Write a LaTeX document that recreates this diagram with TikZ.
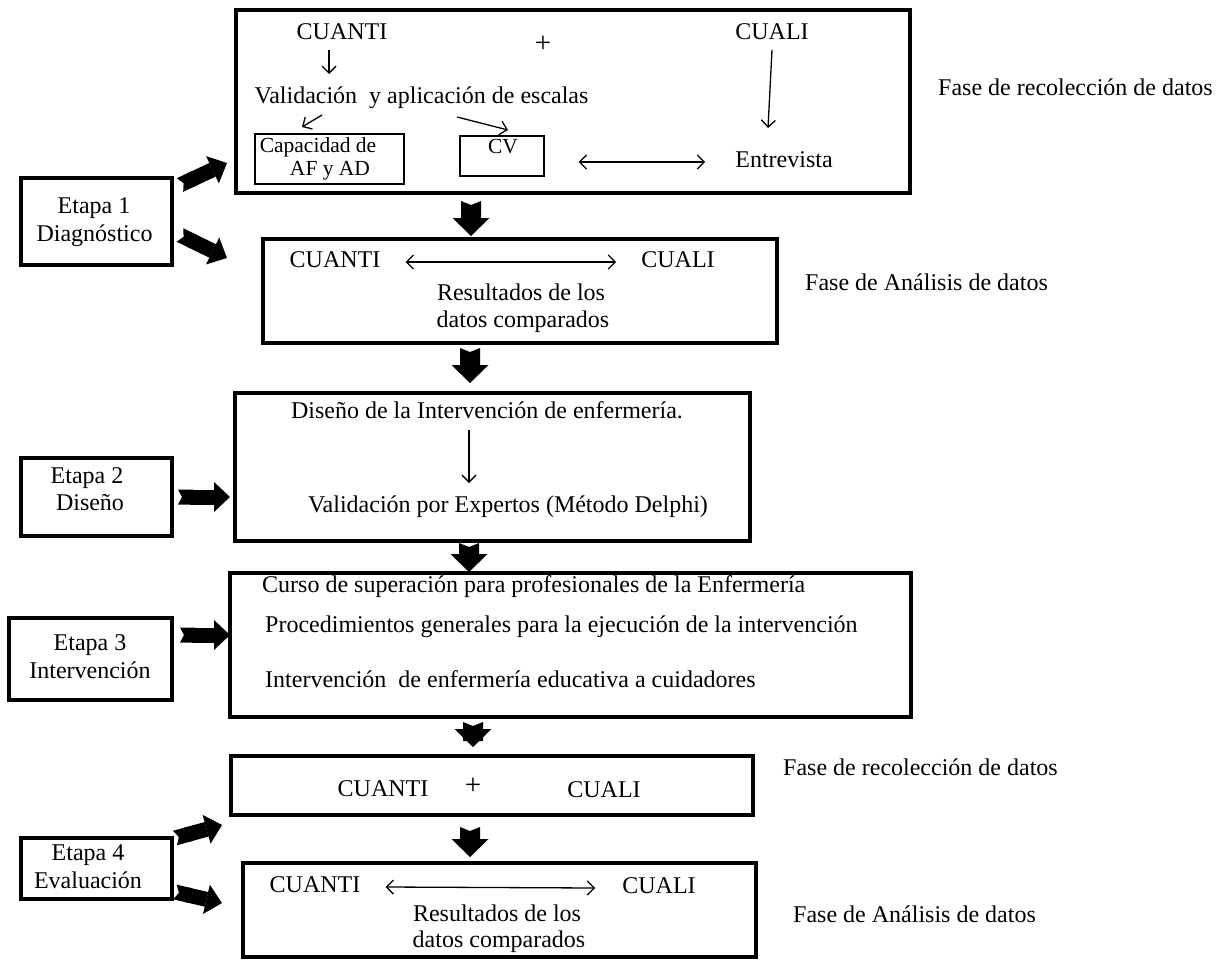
\documentclass[tikz,border=0pt]{standalone}
\usepackage{fontspec}
\setmainfont{Liberation Serif}
\usetikzlibrary{arrows.meta}
\begin{document}
\begin{tikzpicture}[x=1pt,y=-1pt,
  bigbox/.style={draw, line width=3.2pt, inner sep=0pt},
  smallbox/.style={draw, line width=1.3pt, inner sep=0pt},
  txt/.style={inner sep=0pt, font=\fontsize{24}{28}\selectfont, text height=16pt, text depth=5pt},
  plustxt/.style={inner sep=0pt, font=\fontsize{29}{30}\selectfont},
  smalltxt/.style={inner sep=0pt, font=\fontsize{21.5}{24}\selectfont, text height=14pt, text depth=4pt},
  thinarrow/.style={line width=1.3pt, -{Straight Barb[length=7pt,width=14pt]}},
  thinboth/.style={line width=1.3pt, {Straight Barb[length=7pt,width=14pt]}-{Straight Barb[length=7pt,width=14pt]}},
  fat/.style={line width=15pt, {Triangle Cap[reversed,length=4pt]}-{Triangle[length=16pt,width=30pt,line width=0pt]}},
  fatdown/.style={line width=20pt, {Triangle Cap[reversed,length=4pt]}-{Triangle[length=18pt,width=37pt,line width=0pt]}},
]
\useasboundingbox (0,0) rectangle (1224,961);
\fill[white] (0,0) rectangle (1224,961);

% ---------- Box 1 ----------
\node[bigbox, minimum width=674pt, minimum height=183pt] (b1) at (573,101.5) {};
\node[txt] (cq1) at (342,34) {CUANTI};
\node[plustxt] (plus1) at (543,44) {+};
\node[txt] (cl1) at (772,34) {CUALI};
\node[txt] (val1) at (421.5,98) {Validación\ \ y aplicación de escalas};
\node[smallbox, minimum width=149pt, minimum height=50pt] (cap) at (329.5,159) {};
\node[smalltxt] (capt1) at (318,147) {Capacidad de};
\node[smalltxt] (capt2) at (330,170) {AF y AD};
\node[smallbox, minimum width=84pt, minimum height=40pt] (cv) at (502,156) {};
\node[smalltxt] (cvt) at (503,148) {CV};
\node[txt] (ent) at (784,162) {Entrevista};
\coordinate (q1a) at (329,50); \coordinate (q1b) at (329,74);
\draw[thinarrow] (q1a) -- (q1b);
\coordinate (v1a) at (322,115); \coordinate (v1b) at (302,127);
\draw[thinarrow] (v1a) -- (v1b);
\coordinate (v2a) at (457,117); \coordinate (v2b) at (508,130);
\draw[thinarrow] (v2a) -- (v2b);
\coordinate (l1a) at (772,50); \coordinate (l1b) at (768,128);
\draw[thinarrow] (l1a) -- (l1b);
\draw[thinboth] ([xshift=34pt]cv.east |- ent.center) -- ([xshift=-30pt]ent.west);
\node[txt, anchor=west] (f1) at (938,90) {Fase de recolección de datos};

% ---------- Box 2 ----------
\node[bigbox, minimum width=514pt, minimum height=104pt] (b2) at (520,291) {};
\node[txt] (cq2) at (335,262) {CUANTI};
\node[txt] (cl2) at (678,262) {CUALI};
\draw[thinboth] ([xshift=25pt]cq2.east) -- ([xshift=-25pt]cl2.west);
\node[txt] (r2a) at (521,295) {Resultados de los};
\node[txt] (r2b) at (523,322) {datos comparados};
\node[txt, anchor=west] (f2) at (805,285) {Fase de Análisis de datos};

% ---------- Box 3 ----------
\node[bigbox, minimum width=515pt, minimum height=148pt] (b3) at (492.5,467) {};
\node[txt] (dis) at (487,413) {Diseño de la Intervención de enfermería.};
\node[txt] (vexp) at (508,507) {Validación por Expertos (Método Delphi)};
\coordinate (d1a) at (469,430); \coordinate (d1b) at (469,483);
\draw[thinarrow] (d1a) -- (d1b);

% ---------- Box 4 ----------
\node[bigbox, minimum width=681pt, minimum height=144pt] (b4) at (570.5,645) {};
\node[txt, anchor=west] (cur) at (262,587) {Curso de superación para profesionales de la Enfermería};
\node[txt, anchor=west] (proc) at (265,627) {Procedimientos generales para la ejecución de la intervención};
\node[txt, anchor=west] (intv) at (265,682) {Intervención\ \ de enfermería educativa a cuidadores};

% ---------- Box 5 ----------
\node[bigbox, minimum width=522pt, minimum height=59pt] (b5) at (492,785.5) {};
\node[txt] (cq5) at (383,791) {CUANTI};
\node[plustxt] (plus5) at (473,786) {+};
\node[txt] (cl5) at (604,792) {CUALI};
\node[txt, anchor=west] (f3) at (783,770) {Fase de recolección de datos};

% ---------- Box 6 ----------
\node[bigbox, minimum width=513pt, minimum height=94pt] (b6) at (499.5,910) {};
\node[txt] (cq6) at (315,887) {CUANTI};
\node[txt] (cl6) at (659,888) {CUALI};
\draw[thinboth] ([xshift=25pt]cq6.east) -- ([xshift=-27pt]cl6.west);
\node[txt] (r6a) at (497,916) {Resultados de los};
\node[txt] (r6b) at (499,942) {datos comparados};
\node[txt, anchor=west] (f4) at (793,917) {Fase de Análisis de datos};

% ---------- Etapa boxes ----------
\node[bigbox, minimum width=151pt, minimum height=87pt] (e1) at (96.5,221.5) {};
\node[txt] (e1a) at (94,208) {Etapa 1};
\node[txt] (e1b) at (94.5,236) {Diagnóstico};
\node[bigbox, minimum width=151pt, minimum height=78pt] (e2) at (96.5,497) {};
\node[txt] (e2a) at (87,478) {Etapa 2};
\node[txt] (e2b) at (90,505) {Diseño};
\node[bigbox, minimum width=163pt, minimum height=82pt] (e3) at (90.5,659) {};
\node[txt] (e3a) at (90,645) {Etapa 3};
\node[txt] (e3b) at (90,673) {Intervención};
\node[bigbox, minimum width=151pt, minimum height=61pt] (e4) at (96.5,868.5) {};
\node[txt] (e4a) at (88,855) {Etapa 4};
\node[txt] (e4b) at (88,883) {Evaluación};

% ---------- Fat arrows ----------
\coordinate (k1s) at (180,185); \coordinate (k1e) at (227,163);
\draw[fat] (k1s) -- (k1e);
\coordinate (k2s) at (180,235); \coordinate (k2e) at (227,258);
\draw[fat] (k2s) -- (k2e);
\coordinate (k3s) at (178,497); \coordinate (k3e) at (230,497);
\draw[fat] (k3s) -- (k3e);
\coordinate (k4s) at (180,635); \coordinate (k4e) at (230,635);
\draw[fat] (k4s) -- (k4e);
\coordinate (k5s) at (175,838); \coordinate (k5e) at (222,825);
\draw[fat] (k5s) -- (k5e);
\coordinate (k6s) at (175,892); \coordinate (k6e) at (222,903);
\draw[fat] (k6s) -- (k6e);

\coordinate (m1s) at (471,201); \coordinate (m1e) at (471,236);
\draw[fatdown] (m1s) -- (m1e);
\coordinate (m2s) at (470,348); \coordinate (m2e) at (470,383);
\draw[fatdown] (m2s) -- (m2e);
\coordinate (m3s) at (469,543); \coordinate (m3e) at (469,572);
\draw[fatdown] (m3s) -- (m3e);
\coordinate (m4s) at (473,722); \coordinate (m4e) at (473,747);
\draw[fatdown] (m4s) -- (m4e);
\coordinate (m5s) at (470,827); \coordinate (m5e) at (470,857);
\draw[fatdown] (m5s) -- (m5e);
\end{tikzpicture}
\end{document}
